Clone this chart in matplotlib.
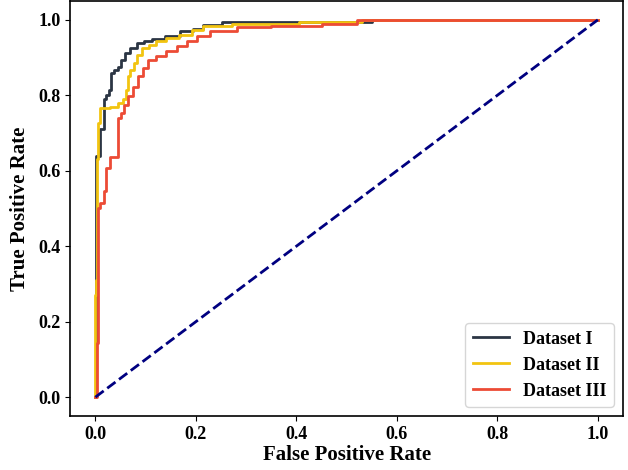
import matplotlib.pyplot as plt

# ROC curve points
fpr1 = [0, 0.002, 0.002, 0.010, 0.010, 0.018, 0.018, 0.023, 0.030, 0.030, 0.043, 0.047,
        0.053, 0.063, 0.076, 0.089, 0.103, 0.123, 0.152, 0.185, 0.205, 0.222, 0.282,
        0.324, 0.40, 0.55, 0.55, 1.0]
tpr1 = [0, 0, 0.64, 0.64, 0.71, 0.71, 0.79, 0.80, 0.815, 0.86, 0.867, 0.876,
        0.894, 0.912, 0.925, 0.939, 0.945, 0.95, 0.956, 0.97, 0.976, 0.987, 0.993,
        0.995, 0.995, 0.995, 1.0, 1.0]

fpr2 = [0, 0, 0.004, 0.004, 0.007, 0.013, 0.043, 0.048, 0.06, 0.063, 0.066, 0.073,
        0.08, 0.086, 0.10, 0.113, 0.13, 0.152, 0.179, 0.205, 0.222, 0.32, 0.49,
        0.53, 0.53, 1.0]
tpr2 = [0, 0.27, 0.31, 0.63, 0.727, 0.767, 0.77, 0.78, 0.79, 0.815, 0.85, 0.867,
        0.886, 0.907, 0.925, 0.934, 0.945, 0.952, 0.96, 0.972, 0.983, 0.99, 0.993,
        0.993, 1.0, 1.0]

fpr3 = [0, 0.003, 0.003, 0.005, 0.005, 0.013, 0.02, 0.023, 0.033, 0.044, 0.044,
        0.047, 0.053, 0.06, 0.07, 0.08, 0.089, 0.10, 0.11, 0.13, 0.152, 0.172,
        0.192, 0.212, 0.242, 0.32, 0.38, 0.52, 0.52, 1.0]
tpr3 = [0, 0, 0.143, 0.143, 0.50, 0.515, 0.545, 0.607, 0.637, 0.637, 0.70,
        0.74, 0.753, 0.775, 0.797, 0.823, 0.85, 0.873, 0.894, 0.903, 0.916, 0.93,
        0.943, 0.956, 0.97, 0.98, 0.984, 0.99, 1.0, 1.0]

labels = ['Dataset I', 'Dataset II', 'Dataset III']
colors = ['#2b3544', '#f2c410', '#ec4b35']

plt.rcParams['font.family'] = ['Liberation Serif', 'DejaVu Serif']
plt.rcParams['font.weight'] = 'bold'

fig = plt.figure(figsize=(6.28, 4.70), dpi=100)
ax = fig.add_axes([0.112, 0.115, 0.880, 0.883])

for f, t, lab, c in zip([fpr1, fpr2, fpr3], [tpr1, tpr2, tpr3], labels, colors):
    ax.plot(f, t, color=c, lw=2, label=lab, drawstyle='steps-mid')
ax.plot([0, 1], [0, 1], color='navy', lw=2, linestyle='--')

ax.set_xlabel('False Positive Rate', fontsize=15, fontweight='bold', labelpad=2)
ax.set_ylabel('True Positive Rate', fontsize=15, fontweight='bold', labelpad=6)
ax.tick_params(labelsize=13)
for lbl in ax.get_xticklabels() + ax.get_yticklabels():
    lbl.set_fontweight('bold')
for s in ax.spines.values():
    s.set_linewidth(1.2)

leg = ax.legend(loc='lower right', prop={'weight': 'bold', 'size': 13})

fig.savefig('out.png', dpi=100)
